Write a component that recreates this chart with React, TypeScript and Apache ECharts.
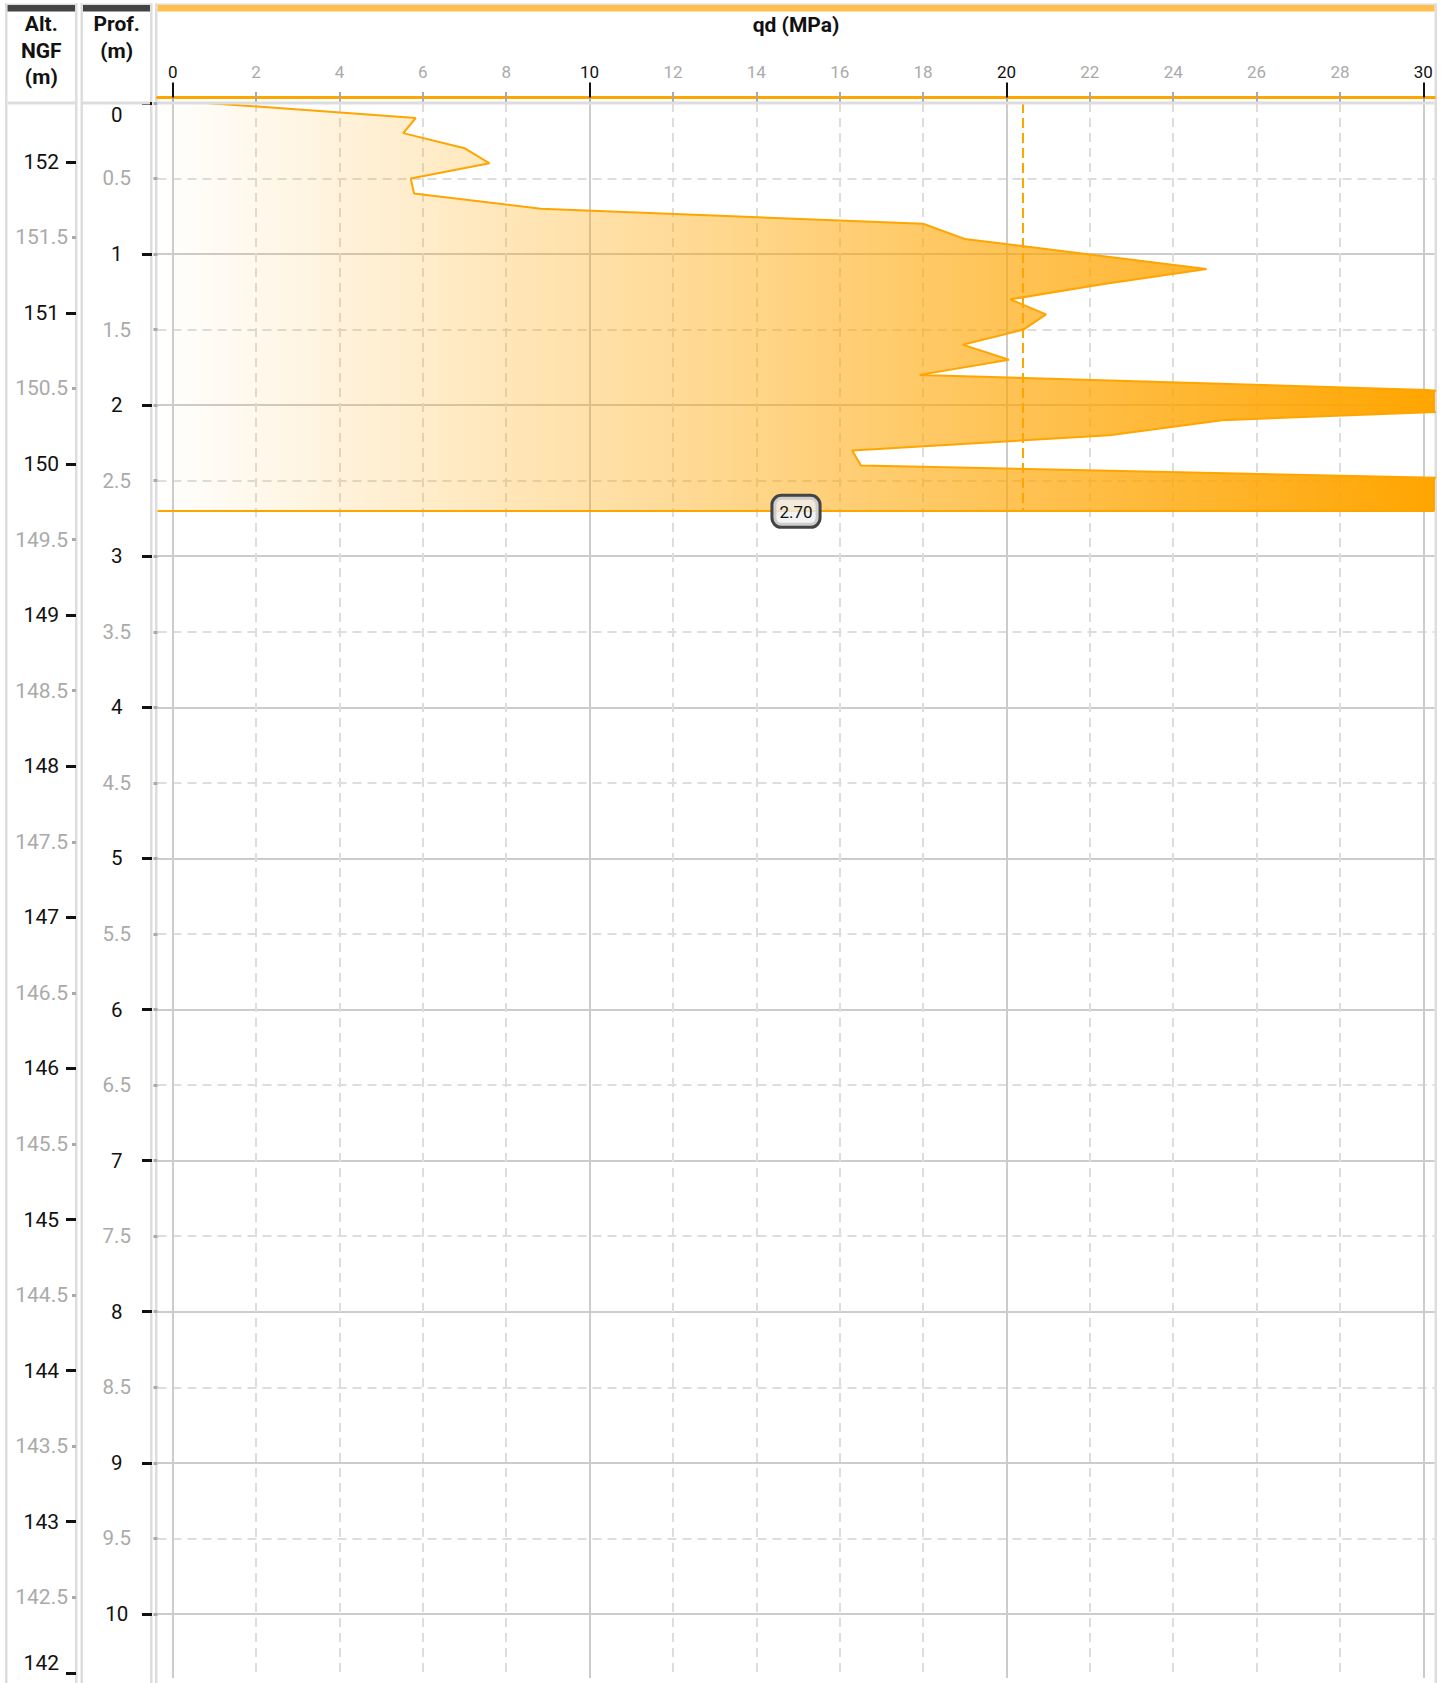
import React, { useEffect, useRef } from 'react';
import * as echarts from 'echarts';

// ---- data ----
const DEPTHS = [0, 0.1, 0.2, 0.3, 0.4, 0.5, 0.6, 0.7, 0.8, 0.9, 1.0, 1.1, 1.2, 1.3, 1.4, 1.5, 1.6, 1.7, 1.8, 1.9, 2.0, 2.1, 2.2, 2.3, 2.4, 2.5, 2.6, 2.7];
const QD = [0.8, 5.83, 5.53, 7.0, 7.6, 5.71, 5.79, 8.83, 18.0, 19.0, 21.9, 24.8, 22.3, 20.09, 20.95, 20.41, 18.95, 20.06, 17.92, 30.1, 34.6, 25.17, 22.47, 16.3, 16.51, 33.7, 35.5, 37.0];
const QD_REF_LINE = 20.39;
const END_DEPTH = 2.7;
const END_LABEL = '2.70';
const GROUND_ALT = 152.39;
const ALT_TICK_RANGE = [142, 152];
const DEPTH_TICK_RANGE = [0, 10];
const QD_TICK_RANGE = [0, 30];
const QD_MAJOR_STEP = 10;
const QD_MINOR_STEP = 2;
const HEADER_ALT = ['Alt.', 'NGF', '(m)'];
const HEADER_PROF = ['Prof.', '(m)'];
const TITLE_QD = 'qd (MPa)';

// ---- layout ----
const W = 1448;
const H = 1683;
const FONT = 'Roboto, "Noto Sans", sans-serif';
const PLOT_LEFT = 157.5;
const PLOT_RIGHT = 1434.5;
const PLOT_TOP = 102.9;
const PLOT_BOTTOM = 1678;
const X0_PX = 172.7;
const X30_PX = 1423.3;
const PX_PER_QD = (X30_PX - X0_PX) / (QD_TICK_RANGE[1] - QD_TICK_RANGE[0]);
const PX_PER_M = 151.1;
const X_VIEW_MIN = (PLOT_LEFT - X0_PX) / PX_PER_QD;
const X_VIEW_MAX = (PLOT_RIGHT - X0_PX) / PX_PER_QD;
const DEPTH_VIEW_MAX = (PLOT_BOTTOM - PLOT_TOP) / PX_PER_M;

const ORANGE = '#FFA500';
const GRAY_LBL = '#aaa';
const BLACK = '#111';

function buildOption(): any {
  const grids = [
    { left: PLOT_LEFT, top: PLOT_TOP, width: PLOT_RIGHT - PLOT_LEFT, height: PLOT_BOTTOM - PLOT_TOP },
    { left: X0_PX, top: PLOT_TOP, width: X30_PX - X0_PX, height: PLOT_BOTTOM - PLOT_TOP },
    {
      left: 76,
      top: PLOT_TOP + (GROUND_ALT - ALT_TICK_RANGE[1]) * PX_PER_M,
      width: 1,
      height: (ALT_TICK_RANGE[1] - ALT_TICK_RANGE[0]) * PX_PER_M,
    },
    { left: PLOT_LEFT, top: PLOT_TOP, width: PLOT_RIGHT - PLOT_LEFT, height: (DEPTH_TICK_RANGE[1] - DEPTH_TICK_RANGE[0]) * PX_PER_M },
  ].map((g) => ({ ...g, containLabel: false, outerBoundsMode: 'none', show: false }));

  const xLabelBase = { fontSize: 17, fontFamily: FONT, margin: 17, showMinLabel: true, showMaxLabel: true };

  const xAxis = [
    {
      gridIndex: 0, type: 'value', position: 'top', min: X_VIEW_MIN, max: X_VIEW_MAX, offset: 5.4,
      axisLine: { show: true, onZero: false, lineStyle: { color: ORANGE, width: 3 } },
      axisTick: { show: false }, axisLabel: { show: false }, splitLine: { show: false },
    },
    {
      gridIndex: 1, type: 'value', position: 'top', min: QD_TICK_RANGE[0], max: QD_TICK_RANGE[1], interval: QD_MINOR_STEP, offset: 5.4,
      axisLine: { show: false },
      axisTick: { show: true, length: 11, lineStyle: { color: GRAY_LBL, width: 2 } },
      axisLabel: { ...xLabelBase, color: GRAY_LBL, formatter: (v: number) => (v % QD_MAJOR_STEP === 0 ? '' : String(v)) },
      splitLine: { show: true, lineStyle: { color: '#ddd', width: 2, type: [9, 6] } },
    },
    {
      gridIndex: 1, type: 'value', position: 'top', min: QD_TICK_RANGE[0], max: QD_TICK_RANGE[1], interval: QD_MAJOR_STEP, offset: 5.4,
      axisLine: { show: false },
      axisTick: { show: true, length: 15, lineStyle: { color: BLACK, width: 2 } },
      axisLabel: { ...xLabelBase, color: BLACK },
      splitLine: { show: true, lineStyle: { color: '#ccc', width: 2, type: 'solid' } },
    },
    { gridIndex: 2, type: 'value', show: false },
    { gridIndex: 3, type: 'value', show: false },
  ];

  const yAxis = [
    { gridIndex: 0, type: 'value', min: 0, max: DEPTH_VIEW_MAX, inverse: true, show: false },
    { gridIndex: 1, type: 'value', min: 0, max: DEPTH_VIEW_MAX, inverse: true, show: false },
    {
      gridIndex: 2, type: 'value', position: 'left', min: ALT_TICK_RANGE[0], max: ALT_TICK_RANGE[1], interval: 0.5,
      axisLine: { show: false },
      axisTick: { show: true, length: 4, lineStyle: { color: GRAY_LBL, width: 3 } },
      axisLabel: {
        show: true, margin: 8, color: GRAY_LBL, fontSize: 21, fontFamily: FONT, showMinLabel: true, showMaxLabel: true,
        formatter: (v: number) => (v % 1 !== 0 ? String(v) : ''),
      },
      splitLine: { show: false },
    },
    {
      gridIndex: 2, type: 'value', position: 'left', min: ALT_TICK_RANGE[0], max: ALT_TICK_RANGE[1], interval: 1,
      axisLine: { show: false },
      axisTick: { show: true, length: 10, lineStyle: { color: BLACK, width: 3 } },
      axisLabel: {
        show: true, margin: 17, color: BLACK, fontSize: 21, fontFamily: FONT, showMinLabel: true, showMaxLabel: true,
        formatter: (v: number) => (v === ALT_TICK_RANGE[0] ? '{b|' + v + '}' : String(v)),
        rich: { b: { padding: [0, 0, 20, 0], fontSize: 21, color: BLACK, fontFamily: FONT } },
      },
      splitLine: { show: false },
    },
    {
      gridIndex: 3, type: 'value', position: 'left', offset: 5.5, min: DEPTH_TICK_RANGE[0], max: DEPTH_TICK_RANGE[1], interval: 0.5, inverse: true,
      axisLine: { show: false },
      axisTick: { show: true, length: 4, lineStyle: { color: GRAY_LBL, width: 3 } },
      axisLabel: {
        show: true, margin: 35.3, align: 'center', color: GRAY_LBL, fontSize: 20.5, fontFamily: FONT, showMinLabel: true, showMaxLabel: true,
        formatter: (v: number) => (v % 1 !== 0 ? String(v) : ''),
      },
      splitLine: { show: true, showMinLine: false, lineStyle: { color: '#ddd', width: 2, type: [9, 6] } },
    },
    {
      gridIndex: 3, type: 'value', position: 'left', offset: 5.5, min: DEPTH_TICK_RANGE[0], max: DEPTH_TICK_RANGE[1], interval: 1, inverse: true,
      axisLine: { show: false },
      axisTick: { show: true, length: 10, lineStyle: { color: BLACK, width: 3 } },
      axisLabel: {
        show: true, margin: 35.3, align: 'center', color: BLACK, fontSize: 20.5, fontFamily: FONT, showMinLabel: true, showMaxLabel: true,
        formatter: (v: number) => (v === 0 ? '{z|0}' : String(v)),
        rich: { z: { padding: [25, 0, 0, 0], fontSize: 20.5, color: BLACK, fontFamily: FONT } },
      },
      splitLine: { show: true, showMinLine: false, lineStyle: { color: '#ccc', width: 2, type: 'solid' } },
    },
  ];

  const linePoints = DEPTHS.map((d, i) => [QD[i], d]);

  const areaSeries = {
    type: 'custom',
    xAxisIndex: 0,
    yAxisIndex: 0,
    clip: true,
    silent: true,
    z: 2,
    data: [[QD[0], DEPTHS[0]]],
    renderItem: (_params: any, api: any) => {
      const pts = DEPTHS.map((d, i) => api.coord([QD[i], d]));
      const first = api.coord([X_VIEW_MIN, DEPTHS[0]]);
      const last = api.coord([X_VIEW_MIN, DEPTHS[DEPTHS.length - 1]]);
      const xl = api.coord([X_VIEW_MIN, 0])[0];
      const xr = api.coord([X_VIEW_MAX, 0])[0];
      return {
        type: 'polygon',
        shape: { points: [first, ...pts, last] },
        style: {
          fill: new echarts.graphic.LinearGradient(xl, 0, xr, 0, [
            { offset: 0, color: 'rgba(255,165,0,0)' },
            { offset: 1, color: 'rgba(255,165,0,1)' },
          ], true),
          stroke: 'none',
        },
      };
    },
  };

  const lineSeries = {
    type: 'line',
    xAxisIndex: 0,
    yAxisIndex: 0,
    data: linePoints,
    showSymbol: false,
    symbol: 'none',
    clip: true,
    z: 3,
    lineStyle: { color: ORANGE, width: 2 },
    emphasis: { disabled: true },
    markLine: {
      silent: true,
      symbol: ['none', 'none'],
      emphasis: { disabled: true },
      data: [
        {
          yAxis: END_DEPTH,
          lineStyle: { type: 'solid', color: ORANGE, width: 2 },
          label: {
            show: true, position: 'middle', distance: -15, formatter: END_LABEL, color: BLACK, fontSize: 17, fontFamily: FONT,
            backgroundColor: 'rgba(240,240,240,0.8)', borderColor: '#444', borderWidth: 3, borderRadius: 8,
            padding: [6, 6, 5, 6], lineHeight: 18,
          },
        },
        [
          { coord: [QD_REF_LINE, 0], lineStyle: { type: [10, 5], color: ORANGE, width: 2 }, label: { show: false } },
          { coord: [QD_REF_LINE, END_DEPTH] },
        ],
      ],
    },
  };

  const rect = (x: number, y: number, w: number, h: number, fill: string, z = 10) => ({
    type: 'rect', shape: { x, y, width: w, height: h }, style: { fill }, z, silent: true,
  });
  const txt = (text: string, x: number, y: number) => ({
    type: 'text', x, y, z: 12, silent: true,
    style: {
      text, fill: BLACK, fontSize: 21, fontWeight: 'bold', fontFamily: FONT,
      align: 'center', verticalAlign: 'middle', textAlign: 'center', textVerticalAlign: 'middle',
    },
  });

  const panels = [
    { l: 5, r: 77.5, bar: '#444' },
    { l: 80.5, r: 152.5, bar: '#444' },
    { l: 155, r: 1437, bar: '#FFBF4D' },
  ];
  const graphics: any[] = [];
  panels.forEach((p) => {
    graphics.push(rect(p.l, 3.5, 2.5, H - 3.5, '#ddd', -1));
    graphics.push(rect(p.r - 2.5, 3.5, 2.5, H - 3.5, '#ddd', -1));
    graphics.push(rect(p.l, 3.5, p.r - p.l, 1.5, '#ddd'));
    graphics.push(rect(p.l + 2.5, 5, p.r - p.l - 5, 6.5, p.bar));
    graphics.push(rect(p.l + 2.5, 101.6, p.r - p.l - 5, 3, '#ddd'));
  });
  HEADER_ALT.forEach((t, i) => graphics.push(txt(t, 41.3, 24.3 + i * 26.5)));
  HEADER_PROF.forEach((t, i) => graphics.push(txt(t, 116.7, 24.3 + i * 26.5)));
  graphics.push(txt(TITLE_QD, 796, 24.5));

  return {
    animation: false,
    backgroundColor: '#fff',
    textStyle: { fontFamily: FONT },
    grid: grids,
    xAxis,
    yAxis,
    series: [areaSeries, lineSeries],
    graphic: { elements: graphics },
  };
}

export default function App() {
  const ref = useRef<HTMLDivElement>(null);
  useEffect(() => {
    document.body.style.margin = '0';
    const chart = echarts.init(ref.current as HTMLDivElement, null, { renderer: 'svg', width: W, height: H });
    chart.setOption(buildOption());
    return () => chart.dispose();
  }, []);
  return <div ref={ref} style={{ width: W, height: H, position: 'absolute', left: 0, top: 0 }} />;
}
